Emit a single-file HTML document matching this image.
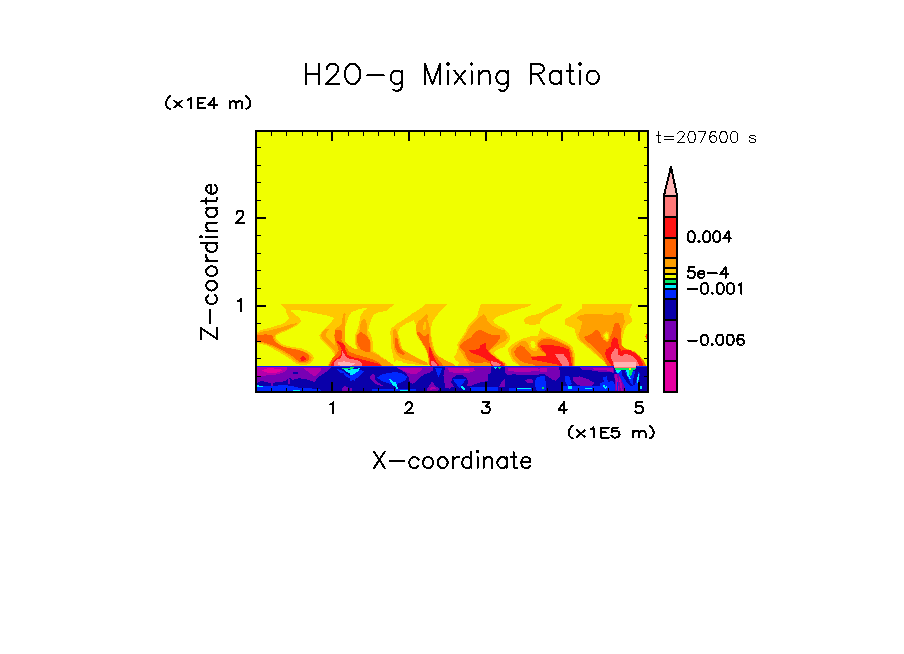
<!DOCTYPE html>
<html><head><meta charset="utf-8"><title>H2O-g Mixing Ratio</title>
<style>html,body{margin:0;padding:0;background:#fff;font-family:"Liberation Sans",sans-serif;}svg{display:block}</style></head><body>
<svg width="904" height="654" viewBox="0 0 904 654">
<rect x="0" y="0" width="904" height="654" fill="#fff"/>
<defs><clipPath id="cp"><rect x="257" y="132" width="390" height="259"/></clipPath></defs>
<g clip-path="url(#cp)" shape-rendering="crispEdges">
<rect x="257" y="132" width="390" height="259" fill="#f0ff00"/>
<polygon fill="#ffc800" points="257.0,304.2 505.0,304.2 505.0,367.0 257.0,367.0"/>
<polygon fill="#ffc800" points="505.0,304.2 531.9,304.2 527.1,307.1 521.8,308.2 515.3,310.3 507.8,313.0 505.0,314.1"/>
<polygon fill="#ffc800" points="505.0,329.6 505.7,330.1 509.4,334.4 510.5,337.6 508.9,341.9 505.0,344.9"/>
<polygon fill="#ffc800" points="505.0,362.2 506.8,364.4 507.8,367.6 505.0,367.6"/>
<polygon fill="#ffc800" points="523.4,321.0 525.0,317.8 530.3,315.7 537.8,314.1 543.2,311.9 548.5,308.7 553.9,305.5 557.1,304.2 561.9,304.2 561.4,307.1 558.1,309.8 552.8,312.4 546.4,315.1 542.1,317.8 540.5,321.0 539.4,324.2 532.5,324.8 526.0,324.2"/>
<polygon fill="#ffc800" points="522.8,367.6 516.4,363.8 512.7,361.1 510.0,355.8 508.4,351.5 508.4,347.8 511.1,345.1 516.4,341.9 522.8,338.7 530.3,336.5 537.8,335.5 540.0,330.1 540.5,328.0 542.1,330.1 545.3,332.3 550.7,334.9 559.2,338.7 567.8,343.0 572.1,346.2 574.2,351.5 575.3,357.9 574.7,367.6"/>
<polygon fill="#ffc800" points="582.1,304.2 632.4,304.2 630.3,308.7 629.2,314.1 631.9,318.3 631.4,322.6 627.1,324.8 624.9,329.0 623.3,334.4 621.7,340.8 621.7,345.1 624.9,348.3 629.2,349.4 634.6,351.5 639.9,355.8 644.2,361.1 646.9,367.6 611.0,367.6 607.8,364.4 603.5,361.1 597.1,355.8 589.6,349.4 583.2,344.0 577.8,339.7 575.7,334.4 575.2,329.0 570.4,326.9 565.0,324.8 565.0,319.4 569.3,316.7 575.7,313.0 581.6,308.7"/>
<polygon fill="#f0ff00" points="257.1,303.4 280.2,304.2 285.5,308.7 286.3,312.4 289.3,318.3 287.1,321.0 281.8,324.2 271.1,327.4 260.4,330.1 257.1,332.8 255.0,332.8 255.0,303.4"/>
<polygon fill="#f0ff00" points="255.0,343.0 257.1,343.0 265.7,345.1 273.2,348.8 281.8,353.7 290.3,359.0 295.7,363.3 300.0,364.9 308.5,364.4 312.8,361.1 313.9,357.4 311.7,353.7 306.4,350.4 301.0,348.3 290.3,346.7 282.8,344.6 278.0,340.8 275.9,337.6 276.4,335.5 281.8,332.8 290.3,329.0 297.8,324.8 301.0,321.0 300.0,318.3 294.6,314.1 290.3,310.8 291.9,310.0 303.2,310.6 314.9,313.0 327.8,315.7 334.2,317.8 332.1,321.0 327.8,325.8 322.4,331.2 319.2,335.5 320.8,339.2 324.6,343.0 329.9,348.3 333.1,352.6 334.7,355.8 332.1,359.0 328.9,362.2 327.8,367.6 255.0,367.6"/>
<polygon fill="#f0ff00" points="360.7,308.7 367.1,308.0 363.0,311.9 360.3,316.2 359.2,322.6 357.7,329.0 355.3,334.4 354.7,340.8 355.6,345.1 358.0,349.4 354.3,349.2 350.0,346.7 346.2,343.5 343.0,339.7 342.3,335.5 344.1,330.1 346.2,323.7 348.4,317.3 351.6,311.9"/>
<polygon fill="#f0ff00" points="396.0,303.4 390.7,307.1 386.4,310.8 377.8,312.4 373.5,315.1 371.4,319.4 369.3,325.8 368.2,330.1 370.9,334.9 372.5,340.8 372.5,346.2 372.7,350.4 377.8,353.7 383.2,357.9 388.5,361.7 393.3,364.9 394.9,367.6 395.2,369.6 394.6,362.1 393.0,355.7 391.4,348.2 390.9,342.8 390.4,332.1 390.9,328.9 395.7,324.6 404.3,319.3 411.8,313.9 420.3,308.6 425.7,304.3 425.7,303.2"/>
<polygon fill="#f0ff00" points="413.9,320.3 416.0,324.6 415.5,331.0 417.1,336.4 421.4,342.8 424.6,348.2 427.3,353.5 428.3,359.9 427.8,363.1 423.5,361.0 417.1,357.8 409.6,353.5 402.7,349.2 401.1,345.0 399.4,337.5 397.8,332.1 400.0,327.8 406.4,323.5"/>
<polygon fill="#f0ff00" points="448.7,303.4 443.9,307.6 439.6,311.9 435.3,317.3 432.1,322.6 431.1,329.0 431.1,335.5 432.7,343.0 434.8,351.5 439.6,357.9 447.1,361.1 452.5,363.3 453.5,367.6 457.8,367.6 458.9,362.2 455.7,360.1 454.1,356.9 456.2,353.7 457.8,348.3 457.3,344.0 461.0,338.7 465.3,332.3 467.4,326.9 471.7,321.5 477.1,316.2 479.2,308.7 480.8,304.2 480.8,303.4"/>
<polygon fill="#f0ff00" points="505.0,314.1 499.6,315.7 495.3,317.8 493.1,320.5 495.3,323.7 500.6,326.9 505.0,329.0"/>
<polygon fill="#f0ff00" points="505.0,346.7 500.6,348.3 496.3,350.4 493.7,352.6 496.3,356.3 500.6,360.1 505.0,362.2"/>
<polygon fill="#f0ff00" points="394.9,366.3 394.9,362.1 396.6,360.3 401.3,361.3 404.4,363.2 411.3,364.2 418.3,364.8 425.3,364.8 429.1,363.6 430.5,366.3"/>
<polygon fill="#ffa000" points="296.2,323.2 291.4,324.2 281.8,327.4 271.1,330.1 261.4,331.7 257.1,333.9 257.1,341.9 265.7,344.0 273.2,347.2 281.8,351.5 290.3,356.9 296.2,361.7 300.0,363.5 307.4,362.8 311.2,360.1 311.7,357.4 309.6,354.7 305.3,352.1 300.0,349.9 290.3,348.3 282.3,346.2 276.9,342.4 274.3,338.1 274.8,334.9 280.7,331.7 289.3,328.5 294.6,325.3 296.7,323.7"/>
<polygon fill="#ffa000" points="325.6,328.5 322.4,332.3 320.8,335.5 322.4,338.7 326.2,343.0 331.0,347.8 334.7,351.5 336.9,354.7 334.2,359.0 331.0,362.2 329.9,367.6 345.0,367.6 345.0,311.9 343.3,314.1 342.2,319.4 341.7,324.8 337.4,328.5 334.7,332.3 334.2,336.5 335.3,340.8 337.4,345.1 336.3,346.7 332.1,342.4 328.3,338.7 325.6,335.7 326.7,332.3 328.9,329.0"/>
<polygon fill="#ffa000" points="363.9,318.9 361.2,321.0 360.2,325.8 359.1,332.3 356.4,335.5 355.9,340.8 356.4,345.1 358.0,349.4 353.2,348.3 348.9,345.1 345.2,341.9 342.0,337.6 341.4,334.4 343.0,330.1 344.1,323.7 345.2,317.3 345.7,314.1 343.0,314.1 342.5,319.4 341.4,324.8 335.0,329.0 335.0,367.6 393.3,367.6 388.5,362.8 383.2,359.0 377.8,354.7 371.4,351.5 370.9,345.1 370.3,340.8 367.1,334.4 366.6,330.1 367.1,324.8 366.0,321.0"/>
<polygon fill="#ffa000" points="394.1,328.9 392.5,332.1 393.0,338.5 393.6,345.0 394.6,350.3 396.8,354.6 400.0,357.8 406.4,359.9 415.0,362.1 421.4,364.2 427.8,365.5 427.3,362.6 422.5,360.5 416.0,357.3 408.5,353.0 402.1,349.2 400.0,345.0 398.4,338.5 397.3,333.2 395.7,329.4"/>
<polygon fill="#ffa000" points="385.0,359.1 393.3,365.0 394.6,369.6 385.0,369.6"/>
<polygon fill="#ffa000" points="426.2,313.9 422.5,318.2 418.2,321.4 416.0,325.7 416.6,332.1 419.3,337.5 423.0,343.9 426.2,349.2 428.3,354.6 429.4,361.0 430.0,369.6 455.0,369.6 455.0,364.8 451.4,363.1 444.9,359.9 439.6,356.7 435.3,352.4 432.6,347.1 431.6,342.8 430.5,336.4 430.0,330.0 428.9,323.5 427.3,319.3 427.8,315.0"/>
<polygon fill="#ffc800" points="425.1,320.3 423.5,324.6 422.5,328.9 424.1,331.0 426.2,327.8 426.2,323.5"/>
<polygon fill="#ffa000" points="483.5,314.1 479.2,317.3 474.9,321.5 470.7,325.8 468.0,330.1 465.3,335.5 461.0,340.8 458.9,345.1 459.4,349.4 462.1,353.7 465.3,359.0 467.4,362.2 470.7,367.6 505.0,367.6 505.0,363.8 500.6,361.7 495.3,357.9 491.5,353.7 489.9,351.0 492.1,348.8 496.3,346.2 500.6,343.0 505.0,340.8 505.0,330.1 498.5,329.0 492.1,325.8 487.8,321.5 485.6,316.2"/>
<polygon fill="#ff6400" points="257.1,334.9 265.7,334.4 272.1,334.9 274.3,340.8 279.6,345.1 287.1,347.8 295.7,349.4 302.1,351.0 307.4,353.7 309.6,356.9 308.5,360.1 305.3,362.2 300.0,362.2 296.2,359.5 290.3,354.7 281.8,349.9 273.2,345.6 265.7,343.0 257.1,340.8"/>
<polygon fill="#ff6400" points="360.2,332.3 357.5,335.5 356.9,340.8 358.0,345.1 360.7,349.4 365.0,351.5 369.8,351.5 370.3,346.2 370.1,340.8 367.1,336.5 363.9,333.9 361.8,332.3"/>
<polygon fill="#ff6400" points="335.5,330.1 334.5,335.5 335.5,340.8 337.7,346.2 338.7,350.4 336.1,354.7 331.8,359.0 329.6,363.3 329.1,367.6 384.2,367.6 378.9,362.2 371.4,359.0 362.8,356.3 355.3,354.2 348.9,351.5 344.6,345.1 341.4,339.7 342.0,335.5 341.4,329.6"/>
<polygon fill="#ff6400" points="395.7,336.4 397.6,339.6 398.7,345.0 400.8,349.8 404.8,353.5 403.2,354.8 398.4,353.0 395.7,348.7 394.8,342.8"/>
<polygon fill="#ff6400" points="417.1,331.6 419.8,332.6 425.1,336.9 428.3,333.7 429.4,335.3 429.4,342.8 431.0,348.2 433.7,353.5 437.4,358.3 441.7,363.1 444.9,369.6 430.0,369.6 428.9,359.9 427.8,353.5 425.7,348.2 422.5,342.8 419.3,337.5 417.1,334.3"/>
<polygon fill="#ff6400" points="479.2,329.6 474.9,332.3 470.7,337.6 465.3,340.8 461.0,344.0 459.4,346.2 462.1,349.4 464.8,352.6 466.4,356.9 468.5,360.1 472.8,362.2 479.2,363.5 484.6,362.2 489.9,362.8 492.1,367.6 505.0,367.6 505.0,363.5 499.6,360.1 493.1,355.3 488.9,351.0 492.1,347.2 496.3,343.0 500.1,338.7 499.6,335.5 489.9,334.4 483.5,331.2"/>
<polygon fill="#ff1414" points="302.6,355.8 305.3,356.9 305.8,359.5 303.7,361.1 301.0,360.6 300.0,358.2"/>
<polygon fill="#ff1414" points="336.6,340.3 339.5,341.5 342.5,343.5 344.9,345.0 345.6,350.3 347.6,355.0 351.5,356.9 358.2,358.3 364.8,360.3 371.4,361.9 378.1,363.6 381.1,364.9 381.4,366.9 331.3,366.9 331.6,362.9 334.3,359.9 338.3,357.3 340.9,354.3 341.6,349.0 339.3,345.0 337.5,343.0"/>
<polygon fill="#ff1414" points="428.9,347.1 431.0,348.2 432.1,353.5 435.3,359.9 438.5,364.2 439.6,369.6 431.0,369.6 430.0,359.9 428.7,353.5"/>
<polygon fill="#ff1414" points="484.6,343.0 480.5,345.1 479.4,348.3 474.9,349.9 469.1,350.4 471.7,353.1 477.1,354.9 481.4,356.7 485.6,359.0 489.9,361.7 491.5,367.6 504.4,367.6 502.8,363.1 499.0,360.6 494.2,356.9 489.1,352.6 485.9,348.3 486.5,344.0"/>
<polygon fill="#ff7878" points="334.3,362.6 337.6,359.3 340.9,358.3 341.9,355.0 342.4,351.3 344.9,355.0 347.6,358.3 352.9,359.3 359.5,360.9 361.8,363.6 361.6,366.9 334.3,366.9 333.6,364.2"/>
<polygon fill="#ffb4b4" points="338.3,362.4 344.2,361.3 346.9,362.3 355.5,362.9 354.2,364.6 351.5,365.6 342.3,366.0 338.3,365.0"/>
<polygon fill="#ff7878" points="431.6,361.0 434.2,361.5 436.4,363.7 436.9,366.4 432.1,366.4 431.0,363.1"/>
<polygon fill="#ff7878" points="491.5,361.1 496.3,362.2 500.6,364.4 499.6,366.5 493.1,366.0 491.0,363.3"/>
<polygon fill="#f0ff00" points="531.4,340.8 534.1,341.3 535.7,345.1 534.6,348.3 531.9,347.8 530.3,344.0"/>
<polygon fill="#ffa000" points="505.0,332.8 506.8,334.9 507.6,337.6 505.7,340.8 505.0,341.3"/>
<polygon fill="#ffa000" points="511.1,349.4 514.3,346.2 518.5,343.0 522.8,340.8 526.0,340.8 528.2,344.0 529.3,348.3 532.5,350.4 536.7,351.5 537.8,348.3 536.7,344.0 537.8,340.8 542.1,338.1 548.5,337.1 554.9,339.2 563.5,343.0 569.9,346.7 572.6,351.5 573.7,357.9 573.7,367.6 521.8,367.6 516.4,362.2 512.7,357.9 510.8,353.7"/>
<polygon fill="#ffa000" points="576.2,317.8 581.1,314.6 597.1,314.1 612.1,315.1 615.3,312.4 623.3,313.0 623.9,317.3 624.9,321.5 623.3,325.8 621.7,330.1 621.2,335.5 621.7,340.8 621.7,345.1 624.9,348.3 629.2,349.4 634.6,351.5 639.9,355.8 644.2,361.1 646.9,367.6 607.8,367.6 604.6,362.2 599.3,356.9 592.8,350.4 586.4,345.1 580.0,339.7 578.4,334.4 581.1,328.0 582.1,321.5"/>
<polygon fill="#ff6400" points="520.2,345.1 515.9,348.8 514.1,352.1 515.3,355.8 519.1,360.1 525.0,362.8 532.5,364.4 540.0,367.6 573.1,367.6 572.6,357.9 571.5,351.5 568.9,347.2 562.4,343.5 554.9,340.3 548.5,338.5 543.2,339.2 538.9,341.9 537.8,345.1 539.4,348.3 542.1,351.5 545.3,353.7 546.4,355.8 540.0,355.8 531.4,356.3 530.3,353.7 527.1,350.4 523.9,346.7"/>
<polygon fill="#ff6400" points="596.0,330.1 590.7,334.4 583.7,337.1 586.4,340.8 592.8,346.2 599.3,352.6 603.5,357.9 606.2,363.3 607.8,367.6 646.3,367.6 644.2,361.7 639.9,356.7 634.6,352.4 629.2,350.2 624.9,348.8 621.7,345.6 620.7,340.8 620.9,333.3 620.4,325.8 618.5,323.2 615.3,323.2 613.7,325.8 613.0,330.1 611.0,334.9 609.4,339.7 607.3,342.4 603.5,339.7 601.4,336.5 599.8,332.3 598.2,330.1"/>
<polygon fill="#ffc800" points="602.5,334.4 606.2,331.2 608.9,332.3 608.9,338.7 607.3,341.9 604.1,339.2"/>
<polygon fill="#f0ff00" points="604.1,334.9 606.7,332.8 608.0,335.5 607.6,339.2 605.1,338.1"/>
<polygon fill="#ff6400" points="646.1,333.9 647.2,333.9 647.2,339.2 646.1,338.7 645.5,336.5"/>
<polygon fill="#ff1414" points="540.0,345.6 545.3,344.9 554.9,345.6 563.5,347.2 568.9,349.6 570.1,353.7 570.8,359.0 572.3,367.6 561.4,367.6 557.1,364.4 548.5,362.8 540.0,361.1 532.5,359.5 530.1,356.9 540.0,356.3 546.6,355.8 545.3,352.6 542.1,349.4"/>
<polygon fill="#ff1414" points="614.2,337.1 611.6,340.8 611.0,346.2 606.2,349.4 605.1,353.7 606.7,359.0 610.0,363.5 612.1,367.6 643.7,367.6 642.3,362.2 639.9,357.7 635.6,353.1 630.3,350.4 626.0,349.4 621.7,350.7 619.4,348.3 618.5,344.0 617.4,338.7"/>
<polygon fill="#ff7878" points="554.9,354.2 563.5,354.2 566.2,357.9 568.9,362.2 569.9,367.6 563.5,367.6 560.3,362.2 557.1,357.9"/>
<polygon fill="#ff7878" points="615.3,348.3 612.1,352.6 610.5,355.8 612.1,360.1 614.4,367.6 639.1,367.6 638.3,363.3 636.7,360.1 633.5,356.9 629.2,354.7 624.9,353.7 621.7,356.3 618.5,354.7 617.7,349.4"/>
<polygon fill="#ffb4b4" points="614.8,362.0 635.6,362.0 636.5,367.6 614.4,367.6"/>
<polygon fill="#0a00aa" points="257.0,366.0 647.0,366.0 647.0,391.0 257.0,391.0"/>
<polygon fill="#7800b4" points="255.0,366.9 331.3,366.9 330.2,368.8 325.8,372.2 322.5,374.4 319.2,376.6 316.9,378.8 314.7,382.1 310.3,380.5 304.8,378.8 299.2,378.3 292.6,379.9 289.3,377.7 287.1,379.9 282.7,381.6 277.1,382.1 271.6,383.2 266.1,382.1 261.6,380.5 257.2,383.2 255.0,383.8"/>
<polygon fill="#b400aa" points="255.0,367.2 287.1,367.2 287.1,369.4 283.8,372.2 277.1,374.4 266.1,375.5 257.2,376.6 255.0,376.6"/>
<polygon fill="#e600a0" points="261.6,370.0 268.3,368.3 277.1,368.6 282.7,370.0 279.3,372.2 271.6,373.1 265.0,372.2"/>
<polygon fill="#b400aa" points="304.2,368.3 321.4,368.3 320.3,371.1 316.9,374.4 314.7,376.6 311.4,374.4 307.0,371.1"/>
<polygon fill="#0a00aa" points="293.2,372.2 297.6,372.2 297.6,373.8 293.2,373.8"/>
<polygon fill="#0028ff" points="255.0,384.9 261.6,386.0 270.5,386.5 282.7,384.9 291.5,386.0 299.2,387.7 307.0,388.2 316.9,388.8 321.4,389.9 321.4,391.2 255.0,391.2"/>
<polygon fill="#00f0ff" points="257.2,385.4 262.7,385.7 262.7,387.1 257.2,387.1"/>
<polygon fill="#00f0ff" points="293.2,389.6 300.4,389.6 300.4,390.8 293.2,390.8"/>
<polygon fill="#0028ff" points="336.3,368.8 342.4,370.5 349.0,375.5 355.0,376.6 355.0,381.0 350.1,378.8 345.7,376.6 343.5,373.3 339.1,372.2"/>
<polygon fill="#00f0ff" points="343.5,368.8 355.0,370.5 355.0,374.9 350.1,373.8 345.7,371.6"/>
<polygon fill="#00e664" points="341.3,367.7 350.1,367.7 349.0,369.4 343.5,369.4"/>
<polygon fill="#7800b4" points="342.4,387.7 345.2,386.0 348.5,387.7 349.6,391.2 341.8,391.2"/>
<polygon fill="#7800b4" points="270.5,382.1 271.6,380.5 272.7,382.1 273.3,386.0 270.5,386.0"/>
<polygon fill="#7800b4" points="287.6,377.7 288.7,376.6 289.8,379.4 289.8,383.8 287.6,383.8"/>
<polygon fill="#00e664" points="350.0,367.2 354.4,367.2 352.2,369.4 350.0,369.7"/>
<polygon fill="#00f0ff" points="350.0,369.7 352.2,369.4 356.6,368.8 360.5,368.0 357.7,371.6 353.9,374.4 350.0,375.3"/>
<polygon fill="#0028ff" points="350.0,375.3 353.9,374.4 357.7,371.6 361.1,369.4 363.8,371.6 359.4,376.6 354.4,379.9 350.0,381.0"/>
<polygon fill="#7800b4" points="371.0,374.9 373.8,373.8 375.4,375.5 374.9,378.8 377.1,381.6 382.1,384.9 384.3,386.0 382.1,386.5 376.5,384.3 372.1,381.0 369.9,377.7"/>
<polygon fill="#0028ff" points="377.1,377.7 382.1,374.4 388.7,372.7 396.5,372.2 403.1,373.8 407.0,376.6 405.3,380.5 399.8,383.2 394.2,384.3 387.6,383.2 382.1,381.0"/>
<polygon fill="#00f0ff" points="388.7,379.0 390.9,378.8 393.7,382.1 395.9,381.6 396.7,384.9 398.1,387.7 399.2,391.2 397.0,391.2 395.4,387.1 392.6,384.9 390.4,381.6"/>
<polygon fill="#0028ff" points="372.1,389.3 416.4,389.3 416.4,391.2 372.1,391.2"/>
<polygon fill="#00f0ff" points="400.3,389.6 407.5,389.6 407.5,391.0 400.3,391.0"/>
<polygon fill="#7800b4" points="396.5,367.3 433.0,367.3 432.7,370.5 429.6,372.7 424.1,374.4 419.7,377.7 416.4,381.6 412.5,383.8 409.7,382.1 409.2,378.3 405.3,372.7 399.8,369.4"/>
<polygon fill="#b400aa" points="397.0,367.7 422.5,367.7 420.8,371.1 416.4,373.8 411.9,374.4 406.4,372.2 402.0,370.0"/>
<polygon fill="#0028ff" points="435.2,367.5 442.9,367.5 440.7,372.2 438.5,376.6 436.8,373.3"/>
<polygon fill="#7800b4" points="445.1,367.3 450.0,367.3 450.0,388.8 446.2,387.7 444.0,382.1 443.5,375.5"/>
<polygon fill="#7800b4" points="431.9,381.6 435.2,385.4 439.6,389.3 437.4,391.2 427.4,391.2 426.3,388.8 429.1,386.0"/>
<polygon fill="#b400aa" points="430.8,387.1 435.2,387.1 436.3,389.3 429.6,389.6"/>
<polygon fill="#7800b4" points="350.0,387.7 351.7,388.2 352.2,391.2 350.0,391.2"/>
<polygon fill="#7800b4" points="445.0,367.3 491.5,367.3 490.9,373.3 488.1,374.4 487.6,381.0 481.5,382.1 474.9,384.3 470.4,386.5 467.1,385.4 468.2,381.0 466.0,377.7 462.7,375.5 457.2,374.9 452.7,377.7 451.1,382.1 453.8,386.5 450.5,387.7 445.0,387.7"/>
<polygon fill="#b400aa" points="447.2,367.7 473.8,367.7 474.9,371.1 467.1,373.3 456.1,373.3 449.4,371.6"/>
<polygon fill="#e600a0" points="463.8,368.8 469.3,368.8 468.8,370.8 464.4,370.8"/>
<polygon fill="#0028ff" points="452.7,379.4 466.0,379.4 461.6,385.4 459.4,387.7 457.2,385.4"/>
<polygon fill="#00f0ff" points="461.0,386.3 463.3,386.3 465.5,389.3 464.4,390.4 461.6,388.2"/>
<polygon fill="#7800b4" points="505.3,367.3 545.0,367.3 545.0,373.3 540.1,374.4 533.5,374.9 522.4,374.9 513.6,374.4 506.9,374.9 504.7,372.2"/>
<polygon fill="#b400aa" points="507.5,368.3 533.5,368.0 540.1,368.8 539.0,371.1 529.1,371.6 515.8,371.6 508.1,371.1"/>
<polygon fill="#7800b4" points="504.7,378.8 505.3,386.5 499.2,386.5 501.4,382.1"/>
<polygon fill="#7800b4" points="524.6,380.5 529.1,378.8 533.5,379.9 532.4,383.2 526.9,382.7"/>
<polygon fill="#0028ff" points="470.4,387.1 498.1,387.1 498.1,390.6 470.4,390.6"/>
<polygon fill="#0028ff" points="509.2,387.7 532.4,387.7 532.4,390.6 509.2,390.6"/>
<polygon fill="#00f0ff" points="515.8,388.2 531.3,388.2 531.3,389.4 515.8,389.4"/>
<polygon fill="#0028ff" points="536.8,377.7 542.3,376.0 545.0,376.6 545.0,391.2 536.8,391.2 535.2,385.4 535.2,381.0"/>
<polygon fill="#00e664" points="541.8,386.5 544.0,386.5 544.0,389.0 541.8,389.0"/>
<polygon fill="#00f0ff" points="493.7,367.3 497.0,367.3 495.3,368.8"/>
<polygon fill="#00e664" points="497.5,367.3 500.9,367.3 499.8,369.4"/>
<polygon fill="#7800b4" points="540.0,366.8 558.3,366.8 560.1,371.0 559.5,377.0 555.8,380.7 552.2,379.5 548.5,377.0 544.9,374.6 540.0,373.4"/>
<polygon fill="#b400aa" points="540.0,367.5 547.3,367.5 546.7,371.6 540.0,372.2"/>
<polygon fill="#0028ff" points="540.0,376.4 544.3,377.0 546.1,383.1 545.5,390.4 540.0,390.4"/>
<polygon fill="#00e664" points="541.8,386.8 544.3,386.8 544.3,389.2 541.8,389.2"/>
<polygon fill="#7800b4" points="572.9,377.0 580.2,376.4 588.7,379.5 594.8,383.1 592.3,385.6 582.6,386.2 576.5,384.3 572.9,380.7"/>
<polygon fill="#7800b4" points="580.2,367.5 613.0,367.1 611.8,371.0 605.7,372.2 598.4,371.6 591.1,370.3 582.6,369.7"/>
<polygon fill="#b400aa" points="591.1,367.7 605.7,367.7 603.3,370.3 594.8,369.7"/>
<polygon fill="#0028ff" points="560.7,386.2 615.4,386.2 615.4,390.7 560.7,390.7"/>
<polygon fill="#00f0ff" points="567.7,385.8 571.9,385.8 571.9,388.5 567.7,388.5"/>
<polygon fill="#00f0ff" points="585.0,387.7 592.3,387.7 592.3,388.8 585.0,388.8"/>
<polygon fill="#00f0ff" points="603.9,384.9 606.9,384.9 606.9,387.5 603.9,387.5"/>
<polygon fill="#0028ff" points="565.6,375.8 569.2,376.4 571.9,384.3 567.4,386.2 564.9,380.7"/>
<polygon fill="#0028ff" points="603.3,377.0 606.9,376.4 608.4,386.2 603.9,386.2"/>
<polygon fill="#7800b4" points="600.0,367.5 613.8,367.5 614.1,373.0 608.3,371.3 600.0,370.2"/>
<polygon fill="#b400aa" points="600.0,368.3 613.3,368.3 613.3,372.3 606.6,370.5 600.0,369.5"/>
<polygon fill="#0028ff" points="600.0,383.2 603.3,382.1 605.5,377.1 606.4,378.3 607.2,383.2 611.1,381.0 614.4,382.1 614.9,391.1 600.0,391.1"/>
<polygon fill="#00f0ff" points="603.0,384.9 604.7,385.2 605.5,386.5 606.6,386.0 606.9,387.7 605.0,388.8 603.3,387.1"/>
<polygon fill="#0028ff" points="614.5,370.5 638.7,370.5 639.8,373.8 638.7,383.2 638.2,391.1 626.5,391.1 624.3,386.0 622.1,381.0 618.3,374.4"/>
<polygon fill="#0a00aa" points="622.1,370.8 624.3,370.8 629.9,382.1 633.2,386.0 631.0,386.5 626.0,381.0 622.1,375.5"/>
<polygon fill="#7800b4" points="614.3,373.8 618.3,373.8 622.1,381.0 624.3,386.0 626.5,391.1 615.2,391.1"/>
<polygon fill="#b400aa" points="614.5,374.1 616.6,374.1 618.3,382.1 618.8,391.1 616.6,391.1 615.8,382.1"/>
<polygon fill="#b400aa" points="618.8,376.6 620.2,378.3 622.1,384.9 622.7,391.1 621.0,391.1 619.9,383.2"/>
<polygon fill="#0028ff" points="616.6,382.1 617.7,382.1 618.3,391.1 617.1,391.1"/>
<polygon fill="#7800b4" points="622.1,381.0 624.3,386.0 626.5,391.1 623.2,391.1 621.8,384.3"/>
<polygon fill="#e600a0" points="618.5,380.5 619.9,380.5 619.9,382.1 618.5,382.1"/>
<polygon fill="#00e664" points="614.7,368.3 635.7,368.3 635.4,370.2 614.9,370.2"/>
<polygon fill="#00f0ff" points="615.8,370.2 620.7,370.2 619.1,373.3 617.1,373.3"/>
<polygon fill="#00f0ff" points="626.0,370.4 629.3,370.4 629.4,376.0 631.0,379.4 629.9,379.5 627.1,374.9"/>
<polygon fill="#00e664" points="629.0,370.2 633.2,370.2 631.1,376.0 629.6,376.0"/>
<polygon fill="#f0ff00" points="629.2,368.3 631.0,368.3 631.0,369.8 629.2,369.8"/>
<polygon fill="#00f0ff" points="638.2,373.8 639.4,373.8 638.8,378.8 637.7,383.2 636.5,382.1 637.1,378.3"/>
<polygon fill="#00f0ff" points="640.3,386.0 641.5,386.0 641.5,388.8 640.3,388.8"/>
<polygon fill="#0a00aa" points="635.4,370.5 638.7,370.5 638.2,373.8 637.1,378.3 635.4,383.2 633.7,386.0 632.6,382.1 633.7,376.6"/>
<polygon fill="#ff6400" points="613.8,365.8 636.5,365.8 636.2,368.3 614.1,368.3"/>
<polygon fill="#ff7878" points="614.1,365.5 636.2,365.5 636.0,367.5 614.4,367.5"/>
<polygon fill="#ffb4b4" points="614.3,362.2 636.0,362.2 636.0,366.5 614.3,366.5"/>
<polygon fill="#0028ff" points="257.0,366.0 613.5,366.0 613.5,367.0 257.0,367.0"/>
<polygon fill="#0028ff" points="637.0,366.0 647.0,366.0 647.0,367.0 637.0,367.0"/>
</g>
<g shape-rendering="crispEdges" fill="#000">
<rect x="255" y="130" width="394" height="2"/><rect x="255" y="391" width="394" height="2"/><rect x="255" y="130" width="2" height="263"/><rect x="647" y="130" width="2" height="263"/>
<rect x="271" y="388" width="1" height="3"/><rect x="271" y="132" width="1" height="4"/>
<rect x="286" y="388" width="1" height="3"/><rect x="286" y="132" width="1" height="4"/>
<rect x="302" y="388" width="1" height="3"/><rect x="302" y="132" width="1" height="4"/>
<rect x="317" y="388" width="1" height="3"/><rect x="317" y="132" width="1" height="4"/>
<rect x="331" y="382" width="2" height="9"/><rect x="331" y="132" width="2" height="9"/>
<rect x="348" y="388" width="1" height="3"/><rect x="348" y="132" width="1" height="4"/>
<rect x="363" y="388" width="1" height="3"/><rect x="363" y="132" width="1" height="4"/>
<rect x="378" y="388" width="1" height="3"/><rect x="378" y="132" width="1" height="4"/>
<rect x="394" y="388" width="1" height="3"/><rect x="394" y="132" width="1" height="4"/>
<rect x="408" y="382" width="2" height="9"/><rect x="408" y="132" width="2" height="9"/>
<rect x="424" y="388" width="1" height="3"/><rect x="424" y="132" width="1" height="4"/>
<rect x="440" y="388" width="1" height="3"/><rect x="440" y="132" width="1" height="4"/>
<rect x="455" y="388" width="1" height="3"/><rect x="455" y="132" width="1" height="4"/>
<rect x="470" y="388" width="1" height="3"/><rect x="470" y="132" width="1" height="4"/>
<rect x="485" y="382" width="2" height="9"/><rect x="485" y="132" width="2" height="9"/>
<rect x="501" y="388" width="1" height="3"/><rect x="501" y="132" width="1" height="4"/>
<rect x="516" y="388" width="1" height="3"/><rect x="516" y="132" width="1" height="4"/>
<rect x="532" y="388" width="1" height="3"/><rect x="532" y="132" width="1" height="4"/>
<rect x="547" y="388" width="1" height="3"/><rect x="547" y="132" width="1" height="4"/>
<rect x="561" y="382" width="2" height="9"/><rect x="561" y="132" width="2" height="9"/>
<rect x="578" y="388" width="1" height="3"/><rect x="578" y="132" width="1" height="4"/>
<rect x="593" y="388" width="1" height="3"/><rect x="593" y="132" width="1" height="4"/>
<rect x="608" y="388" width="1" height="3"/><rect x="608" y="132" width="1" height="4"/>
<rect x="624" y="388" width="1" height="3"/><rect x="624" y="132" width="1" height="4"/>
<rect x="638" y="382" width="2" height="9"/><rect x="638" y="132" width="2" height="9"/>
<rect x="257" y="376" width="4" height="1"/><rect x="644" y="376" width="3" height="1"/>
<rect x="257" y="358" width="4" height="1"/><rect x="644" y="358" width="3" height="1"/>
<rect x="257" y="341" width="4" height="1"/><rect x="644" y="341" width="3" height="1"/>
<rect x="257" y="323" width="4" height="1"/><rect x="644" y="323" width="3" height="1"/>
<rect x="257" y="305" width="9" height="2"/><rect x="638" y="305" width="9" height="2"/>
<rect x="257" y="288" width="4" height="1"/><rect x="644" y="288" width="3" height="1"/>
<rect x="257" y="270" width="4" height="1"/><rect x="644" y="270" width="3" height="1"/>
<rect x="257" y="253" width="4" height="1"/><rect x="644" y="253" width="3" height="1"/>
<rect x="257" y="235" width="4" height="1"/><rect x="644" y="235" width="3" height="1"/>
<rect x="257" y="217" width="9" height="2"/><rect x="638" y="217" width="9" height="2"/>
<rect x="257" y="200" width="4" height="1"/><rect x="644" y="200" width="3" height="1"/>
<rect x="257" y="182" width="4" height="1"/><rect x="644" y="182" width="3" height="1"/>
<rect x="257" y="165" width="4" height="1"/><rect x="644" y="165" width="3" height="1"/>
<rect x="257" y="147" width="4" height="1"/><rect x="644" y="147" width="3" height="1"/>
</g>
<g shape-rendering="crispEdges">
<rect x="663" y="195" width="15" height="198" fill="#000"/>
<rect x="665" y="197" width="11" height="19" fill="#ff7878"/>
<rect x="665" y="218" width="11" height="19" fill="#ff1414"/>
<rect x="665" y="239" width="11" height="18" fill="#ff6400"/>
<rect x="665" y="259" width="11" height="8" fill="#ffa000"/>
<rect x="665" y="269" width="11" height="4" fill="#ffc800"/>
<rect x="665" y="275" width="11" height="3" fill="#f0ff00"/>
<rect x="665" y="280" width="11" height="3" fill="#00e664"/>
<rect x="665" y="285" width="11" height="3" fill="#00f0ff"/>
<rect x="665" y="290" width="11" height="8" fill="#0028ff"/>
<rect x="665" y="300" width="11" height="19" fill="#0a00aa"/>
<rect x="665" y="321" width="11" height="19" fill="#7800b4"/>
<rect x="665" y="342" width="11" height="18" fill="#b400aa"/>
<rect x="665" y="362" width="11" height="29" fill="#e600a0"/>
</g>
<polygon points="664,195.5 671,166.6 677,195.5" fill="#ffb4b4" stroke="#000" stroke-width="2" stroke-linejoin="round" shape-rendering="crispEdges"/>
<g shape-rendering="crispEdges"><path d="M306.0 64.0L306.0 84.0 M319.3 64.0L319.3 84.0 M306.0 73.5L319.3 73.5 M326.9 68.8L326.9 67.8L327.9 65.9L328.8 65.0L330.7 64.0L334.5 64.0L336.4 65.0L337.4 65.9L338.3 67.8L338.3 69.7L337.4 71.6L335.5 74.5L326.0 84.0L339.3 84.0 M350.7 64.0L348.8 65.0L346.9 66.9L346.0 68.8L345.0 71.6L345.0 76.4L346.0 79.2L346.9 81.1L348.8 83.0L350.7 84.0L354.5 84.0L356.4 83.0L358.3 81.1L359.3 79.2L360.2 76.4L360.2 71.6L359.3 68.8L358.3 66.9L356.4 65.0L354.5 64.0L350.7 64.0 M366.9 75.4L384.0 75.4 M402.1 70.7L402.1 85.9L401.1 88.8L400.2 89.7L398.3 90.7L395.4 90.7L393.5 89.7 M402.1 73.5L400.2 71.6L398.3 70.7L395.4 70.7L393.5 71.6L391.6 73.5L390.7 76.4L390.7 78.3L391.6 81.1L393.5 83.0L395.4 84.0L398.3 84.0L400.2 83.0L402.1 81.1 M424.9 64.0L424.9 84.0 M424.9 64.0L432.5 84.0 M440.1 64.0L432.5 84.0 M440.1 64.0L440.1 84.0 M446.8 64.0L447.7 65.0L448.7 64.0L447.7 63.0L446.8 64.0 M447.7 70.7L447.7 84.0 M454.4 70.7L464.9 84.0 M464.9 70.7L454.4 84.0 M470.6 64.0L471.5 65.0L472.5 64.0L471.5 63.0L470.6 64.0 M471.5 70.7L471.5 84.0 M479.1 70.7L479.1 84.0 M479.1 74.5L482.0 71.6L483.9 70.7L486.7 70.7L488.6 71.6L489.6 74.5L489.6 84.0 M507.7 70.7L507.7 85.9L506.7 88.8L505.8 89.7L503.9 90.7L501.0 90.7L499.1 89.7 M507.7 73.5L505.8 71.6L503.9 70.7L501.0 70.7L499.1 71.6L497.2 73.5L496.3 76.4L496.3 78.3L497.2 81.1L499.1 83.0L501.0 84.0L503.9 84.0L505.8 83.0L507.7 81.1 M530.5 64.0L530.5 84.0 M530.5 64.0L539.1 64.0L541.9 65.0L542.9 65.9L543.8 67.8L543.8 69.7L542.9 71.6L541.9 72.6L539.1 73.5L530.5 73.5 M537.2 73.5L543.8 84.0 M560.9 70.7L560.9 84.0 M560.9 73.5L559.0 71.6L557.1 70.7L554.3 70.7L552.4 71.6L550.5 73.5L549.5 76.4L549.5 78.3L550.5 81.1L552.4 83.0L554.3 84.0L557.1 84.0L559.0 83.0L560.9 81.1 M569.5 64.0L569.5 80.2L570.5 83.0L572.4 84.0L574.3 84.0 M566.7 70.7L573.3 70.7 M579.0 64.0L580.0 65.0L580.9 64.0L580.0 63.0L579.0 64.0 M580.0 70.7L580.0 84.0 M591.4 70.7L589.5 71.6L587.6 73.5L586.6 76.4L586.6 78.3L587.6 81.1L589.5 83.0L591.4 84.0L594.2 84.0L596.1 83.0L598.0 81.1L599.0 78.3L599.0 76.4L598.0 73.5L596.1 71.6L594.2 70.7L591.4 70.7" fill="none" stroke="#000" stroke-width="2.00" stroke-linecap="round" stroke-linejoin="round"/>
<path d="M170.0 96.1L168.9 97.0L167.7 98.5L166.6 100.4L166.0 102.3L166.0 104.2L166.6 106.1L167.7 107.5L168.9 108.5L170.0 108.7 M174.3 100.8L181.8 107.3 M181.8 100.8L174.3 107.3 M187.8 99.9L188.9 99.4L190.7 98.0L190.7 108.0 M198.1 98.0L198.1 108.0 M198.1 98.0L205.6 98.0 M198.1 102.8L202.7 102.8 M198.1 108.0L205.6 108.0 M214.2 98.0L208.4 104.7L217.0 104.7 M214.2 98.0L214.2 108.0 M229.7 101.3L229.7 108.0 M229.7 103.2L231.4 101.8L232.5 101.3L234.2 101.3L235.4 101.8L236.0 103.2L236.0 108.0 M236.0 103.2L237.7 101.8L238.8 101.3L240.6 101.3L241.7 101.8L242.3 103.2L242.3 108.0 M246.3 96.1L247.4 97.0L248.6 98.5L249.7 100.4L250.3 102.3L250.3 104.2L249.7 106.1L248.6 107.5L247.4 108.5L246.3 108.7" fill="none" stroke="#000" stroke-width="2.00" stroke-linecap="round" stroke-linejoin="round"/>
<path d="M658.1 131.5L658.1 140.4L658.6 142.0L659.7 142.5L660.8 142.5 M656.5 135.2L660.2 135.2 M664.0 136.2L673.5 136.2 M664.0 139.4L673.5 139.4 M677.8 134.1L677.8 133.6L678.3 132.5L678.9 132.0L679.9 131.5L682.0 131.5L683.1 132.0L683.6 132.5L684.2 133.6L684.2 134.6L683.6 135.7L682.6 137.3L677.3 142.5L684.7 142.5 M691.1 131.5L689.5 132.0L688.4 133.6L687.9 136.2L687.9 137.8L688.4 140.4L689.5 142.0L691.1 142.5L692.2 142.5L693.8 142.0L694.8 140.4L695.4 137.8L695.4 136.2L694.8 133.6L693.8 132.0L692.2 131.5L691.1 131.5 M706.0 131.5L700.7 142.5 M698.5 131.5L706.0 131.5 M716.1 133.1L715.6 132.0L714.0 131.5L712.9 131.5L711.3 132.0L710.3 133.6L709.7 136.2L709.7 138.8L710.3 140.9L711.3 142.0L712.9 142.5L713.5 142.5L715.0 142.0L716.1 140.9L716.6 139.4L716.6 138.8L716.1 137.3L715.0 136.2L713.5 135.7L712.9 135.7L711.3 136.2L710.3 137.3L709.7 138.8 M723.0 131.5L721.4 132.0L720.4 133.6L719.8 136.2L719.8 137.8L720.4 140.4L721.4 142.0L723.0 142.5L724.1 142.5L725.7 142.0L726.8 140.4L727.3 137.8L727.3 136.2L726.8 133.6L725.7 132.0L724.1 131.5L723.0 131.5 M733.7 131.5L732.1 132.0L731.0 133.6L730.5 136.2L730.5 137.8L731.0 140.4L732.1 142.0L733.7 142.5L734.7 142.5L736.3 142.0L737.4 140.4L737.9 137.8L737.9 136.2L737.4 133.6L736.3 132.0L734.7 131.5L733.7 131.5 M755.5 136.7L755.0 135.7L753.4 135.2L751.8 135.2L750.2 135.7L749.6 136.7L750.2 137.8L751.2 138.3L753.9 138.8L755.0 139.4L755.5 140.4L755.5 140.9L755.0 142.0L753.4 142.5L751.8 142.5L750.2 142.0L749.6 140.9" fill="none" stroke="#000" stroke-width="1.00" stroke-linecap="round" stroke-linejoin="round"/>
<path d="M201.0 328.2L217.0 338.8 M201.0 338.8L201.0 328.2 M217.0 338.8L217.0 328.2 M210.1 322.9L210.1 309.4 M208.6 295.0L207.1 296.5L206.3 298.0L206.3 300.3L207.1 301.8L208.6 303.3L210.9 304.1L212.4 304.1L214.7 303.3L216.2 301.8L217.0 300.3L217.0 298.0L216.2 296.5L214.7 295.0 M206.3 286.7L207.1 288.2L208.6 289.7L210.9 290.5L212.4 290.5L214.7 289.7L216.2 288.2L217.0 286.7L217.0 284.4L216.2 282.9L214.7 281.4L212.4 280.7L210.9 280.7L208.6 281.4L207.1 282.9L206.3 284.4L206.3 286.7 M206.3 272.4L207.1 273.9L208.6 275.4L210.9 276.1L212.4 276.1L214.7 275.4L216.2 273.9L217.0 272.4L217.0 270.1L216.2 268.6L214.7 267.1L212.4 266.3L210.9 266.3L208.6 267.1L207.1 268.6L206.3 270.1L206.3 272.4 M206.3 261.0L217.0 261.0 M210.9 261.0L208.6 260.3L207.1 258.8L206.3 257.3L206.3 255.0 M201.0 242.9L217.0 242.9 M208.6 242.9L207.1 244.4L206.3 245.9L206.3 248.2L207.1 249.7L208.6 251.2L210.9 252.0L212.4 252.0L214.7 251.2L216.2 249.7L217.0 248.2L217.0 245.9L216.2 244.4L214.7 242.9 M201.0 237.6L201.8 236.9L201.0 236.1L200.2 236.9L201.0 237.6 M206.3 236.9L217.0 236.9 M206.3 230.8L217.0 230.8 M209.4 230.8L207.1 228.6L206.3 227.1L206.3 224.8L207.1 223.3L209.4 222.5L217.0 222.5 M206.3 208.2L217.0 208.2 M208.6 208.2L207.1 209.7L206.3 211.2L206.3 213.5L207.1 215.0L208.6 216.5L210.9 217.3L212.4 217.3L214.7 216.5L216.2 215.0L217.0 213.5L217.0 211.2L216.2 209.7L214.7 208.2 M201.0 201.4L214.0 201.4L216.2 200.7L217.0 199.1L217.0 197.6 M206.3 203.7L206.3 198.4 M210.9 193.9L210.9 184.8L209.4 184.8L207.9 185.6L207.1 186.3L206.3 187.8L206.3 190.1L207.1 191.6L208.6 193.1L210.9 193.9L212.4 193.9L214.7 193.1L216.2 191.6L217.0 190.1L217.0 187.8L216.2 186.3L214.7 184.8" fill="none" stroke="#000" stroke-width="2.00" stroke-linecap="round" stroke-linejoin="round"/>
<path d="M374.0 451.6L384.7 468.1 M384.7 451.6L374.0 468.1 M390.1 461.0L403.9 461.0 M418.5 459.5L416.9 457.9L415.4 457.1L413.1 457.1L411.6 457.9L410.0 459.5L409.3 461.8L409.3 463.4L410.0 465.7L411.6 467.3L413.1 468.1L415.4 468.1L416.9 467.3L418.5 465.7 M426.9 457.1L425.4 457.9L423.8 459.5L423.1 461.8L423.1 463.4L423.8 465.7L425.4 467.3L426.9 468.1L429.2 468.1L430.7 467.3L432.3 465.7L433.0 463.4L433.0 461.8L432.3 459.5L430.7 457.9L429.2 457.1L426.9 457.1 M441.5 457.1L439.9 457.9L438.4 459.5L437.6 461.8L437.6 463.4L438.4 465.7L439.9 467.3L441.5 468.1L443.8 468.1L445.3 467.3L446.8 465.7L447.6 463.4L447.6 461.8L446.8 459.5L445.3 457.9L443.8 457.1L441.5 457.1 M453.0 457.1L453.0 468.1 M453.0 461.8L453.7 459.5L455.3 457.9L456.8 457.1L459.1 457.1 M471.4 451.6L471.4 468.1 M471.4 459.5L469.8 457.9L468.3 457.1L466.0 457.1L464.5 457.9L462.9 459.5L462.2 461.8L462.2 463.4L462.9 465.7L464.5 467.3L466.0 468.1L468.3 468.1L469.8 467.3L471.4 465.7 M476.7 451.6L477.5 452.4L478.3 451.6L477.5 450.8L476.7 451.6 M477.5 457.1L477.5 468.1 M483.6 457.1L483.6 468.1 M483.6 460.2L485.9 457.9L487.5 457.1L489.8 457.1L491.3 457.9L492.1 460.2L492.1 468.1 M506.6 457.1L506.6 468.1 M506.6 459.5L505.1 457.9L503.6 457.1L501.3 457.1L499.7 457.9L498.2 459.5L497.4 461.8L497.4 463.4L498.2 465.7L499.7 467.3L501.3 468.1L503.6 468.1L505.1 467.3L506.6 465.7 M513.5 451.6L513.5 465.0L514.3 467.3L515.8 468.1L517.4 468.1 M511.2 457.1L516.6 457.1 M521.2 461.8L530.4 461.8L530.4 460.2L529.6 458.7L528.9 457.9L527.3 457.1L525.0 457.1L523.5 457.9L522.0 459.5L521.2 461.8L521.2 463.4L522.0 465.7L523.5 467.3L525.0 468.1L527.3 468.1L528.9 467.3L530.4 465.7" fill="none" stroke="#000" stroke-width="2.00" stroke-linecap="round" stroke-linejoin="round"/>
<path d="M572.7 425.6L571.6 426.5L570.4 428.0L569.3 429.9L568.7 431.8L568.7 433.7L569.3 435.6L570.4 437.0L571.6 438.0L572.7 438.2 M577.1 430.3L584.6 436.8 M584.6 430.3L577.1 436.8 M590.6 429.4L591.8 428.9L593.5 427.5L593.5 437.5 M601.0 427.5L601.0 437.5 M601.0 427.5L608.6 427.5 M601.0 432.3L605.7 432.3 M601.0 437.5L608.6 437.5 M618.4 427.5L612.6 427.5L612.0 431.8L612.6 431.3L614.3 430.8L616.1 430.8L617.8 431.3L618.9 432.3L619.5 433.7L619.5 434.6L618.9 436.1L617.8 437.0L616.1 437.5L614.3 437.5L612.6 437.0L612.0 436.5L611.4 435.6 M632.8 430.8L632.8 437.5 M632.8 432.7L634.5 431.3L635.7 430.8L637.4 430.8L638.6 431.3L639.2 432.7L639.2 437.5 M639.2 432.7L640.9 431.3L642.0 430.8L643.8 430.8L644.9 431.3L645.5 432.7L645.5 437.5 M649.6 425.6L650.7 426.5L651.9 428.0L653.0 429.9L653.6 431.8L653.6 433.7L653.0 435.6L651.9 437.0L650.7 438.0L649.6 438.2" fill="none" stroke="#000" stroke-width="2.00" stroke-linecap="round" stroke-linejoin="round"/>
<path d="M330.2 404.4L331.5 403.9L333.4 402.3L333.4 413.3" fill="none" stroke="#000" stroke-width="2.00" stroke-linecap="round" stroke-linejoin="round"/>
<path d="M405.7 404.9L405.7 404.4L406.2 403.3L406.8 402.8L407.9 402.3L410.2 402.3L411.3 402.8L411.9 403.3L412.4 404.4L412.4 405.4L411.9 406.5L410.7 408.1L405.1 413.3L413.0 413.3" fill="none" stroke="#000" stroke-width="2.00" stroke-linecap="round" stroke-linejoin="round"/>
<path d="M483.0 402.3L489.2 402.3L485.9 406.5L487.5 406.5L488.7 407.0L489.2 407.5L489.8 409.1L489.8 410.2L489.2 411.7L488.1 412.8L486.4 413.3L484.7 413.3L483.0 412.8L482.5 412.3L481.9 411.2" fill="none" stroke="#000" stroke-width="2.00" stroke-linecap="round" stroke-linejoin="round"/>
<path d="M564.0 402.3L558.7 409.6L566.7 409.6 M564.0 402.3L564.0 413.3" fill="none" stroke="#000" stroke-width="2.00" stroke-linecap="round" stroke-linejoin="round"/>
<path d="M642.2 402.3L636.5 402.3L636.0 407.0L636.5 406.5L638.2 406.0L639.9 406.0L641.6 406.5L642.7 407.5L643.3 409.1L643.3 410.2L642.7 411.7L641.6 412.8L639.9 413.3L638.2 413.3L636.5 412.8L636.0 412.3L635.4 411.2" fill="none" stroke="#000" stroke-width="2.00" stroke-linecap="round" stroke-linejoin="round"/>
<path d="M236.5 213.7L236.5 213.2L237.1 212.0L237.6 211.5L238.8 210.9L241.1 210.9L242.3 211.5L242.8 212.0L243.4 213.2L243.4 214.3L242.8 215.4L241.7 217.1L235.9 222.8L244.0 222.8" fill="none" stroke="#000" stroke-width="2.00" stroke-linecap="round" stroke-linejoin="round"/>
<path d="M237.8 301.2L239.2 300.6L241.2 298.9L241.2 310.8" fill="none" stroke="#000" stroke-width="2.00" stroke-linecap="round" stroke-linejoin="round"/>
<path d="M690.8 231.3L689.3 231.8L688.3 233.3L687.8 235.9L687.8 237.4L688.3 240.0L689.3 241.5L690.8 242.0L691.9 242.0L693.4 241.5L694.4 240.0L694.9 237.4L694.9 235.9L694.4 233.3L693.4 231.8L691.9 231.3L690.8 231.3 M699.0 241.0L698.5 241.5L699.0 242.0L699.5 241.5L699.0 241.0 M706.1 231.3L704.6 231.8L703.6 233.3L703.0 235.9L703.0 237.4L703.6 240.0L704.6 241.5L706.1 242.0L707.1 242.0L708.6 241.5L709.7 240.0L710.2 237.4L710.2 235.9L709.7 233.3L708.6 231.8L707.1 231.3L706.1 231.3 M716.3 231.3L714.7 231.8L713.7 233.3L713.2 235.9L713.2 237.4L713.7 240.0L714.7 241.5L716.3 242.0L717.3 242.0L718.8 241.5L719.8 240.0L720.3 237.4L720.3 235.9L719.8 233.3L718.8 231.8L717.3 231.3L716.3 231.3 M728.5 231.3L723.4 238.4L731.0 238.4 M728.5 231.3L728.5 242.0" fill="none" stroke="#000" stroke-width="2.00" stroke-linecap="round" stroke-linejoin="round"/>
<path d="M693.9 267.0L688.8 267.0L688.3 271.7L688.8 271.2L690.3 270.7L691.9 270.7L693.4 271.2L694.4 272.2L694.9 273.8L694.9 274.9L694.4 276.4L693.4 277.5L691.9 278.0L690.3 278.0L688.8 277.5L688.3 277.0L687.8 275.9 M698.0 273.8L704.1 273.8L704.1 272.8L703.6 271.7L703.1 271.2L702.0 270.7L700.5 270.7L699.5 271.2L698.5 272.2L698.0 273.8L698.0 274.9L698.5 276.4L699.5 277.5L700.5 278.0L702.0 278.0L703.1 277.5L704.1 276.4 M707.6 273.3L716.8 273.3 M725.5 267.0L720.4 274.3L728.0 274.3 M725.5 267.0L725.5 278.0" fill="none" stroke="#000" stroke-width="2.00" stroke-linecap="round" stroke-linejoin="round"/>
<path d="M688.0 289.3L697.3 289.3 M704.1 283.1L702.5 283.6L701.5 285.2L701.0 287.7L701.0 289.3L701.5 291.8L702.5 293.4L704.1 293.9L705.1 293.9L706.7 293.4L707.7 291.8L708.2 289.3L708.2 287.7L707.7 285.2L706.7 283.6L705.1 283.1L704.1 283.1 M712.4 292.9L711.8 293.4L712.4 293.9L712.9 293.4L712.4 292.9 M719.6 283.1L718.1 283.6L717.0 285.2L716.5 287.7L716.5 289.3L717.0 291.8L718.1 293.4L719.6 293.9L720.7 293.9L722.2 293.4L723.3 291.8L723.8 289.3L723.8 287.7L723.3 285.2L722.2 283.6L720.7 283.1L719.6 283.1 M730.0 283.1L728.4 283.6L727.4 285.2L726.9 287.7L726.9 289.3L727.4 291.8L728.4 293.4L730.0 293.9L731.0 293.9L732.6 293.4L733.6 291.8L734.1 289.3L734.1 287.7L733.6 285.2L732.6 283.6L731.0 283.1L730.0 283.1 M738.8 285.2L739.8 284.6L741.4 283.1L741.4 293.9" fill="none" stroke="#000" stroke-width="2.00" stroke-linecap="round" stroke-linejoin="round"/>
<path d="M688.0 340.6L697.2 340.6 M703.9 334.7L702.4 335.2L701.4 336.7L700.8 339.1L700.8 340.6L701.4 343.0L702.4 344.5L703.9 345.0L705.0 345.0L706.5 344.5L707.5 343.0L708.0 340.6L708.0 339.1L707.5 336.7L706.5 335.2L705.0 334.7L703.9 334.7 M712.1 344.0L711.6 344.5L712.1 345.0L712.7 344.5L712.1 344.0 M719.3 334.7L717.8 335.2L716.8 336.7L716.3 339.1L716.3 340.6L716.8 343.0L717.8 344.5L719.3 345.0L720.4 345.0L721.9 344.5L722.9 343.0L723.4 340.6L723.4 339.1L722.9 336.7L721.9 335.2L720.4 334.7L719.3 334.7 M729.6 334.7L728.1 335.2L727.0 336.7L726.5 339.1L726.5 340.6L727.0 343.0L728.1 344.5L729.6 345.0L730.6 345.0L732.2 344.5L733.2 343.0L733.7 340.6L733.7 339.1L733.2 336.7L732.2 335.2L730.6 334.7L729.6 334.7 M743.5 336.2L743.0 335.2L741.4 334.7L740.4 334.7L738.9 335.2L737.8 336.7L737.3 339.1L737.3 341.6L737.8 343.5L738.9 344.5L740.4 345.0L740.9 345.0L742.5 344.5L743.5 343.5L744.0 342.1L744.0 341.6L743.5 340.1L742.5 339.1L740.9 338.6L740.4 338.6L738.9 339.1L737.8 340.1L737.3 341.6" fill="none" stroke="#000" stroke-width="2.00" stroke-linecap="round" stroke-linejoin="round"/></g>
</svg></body></html>
